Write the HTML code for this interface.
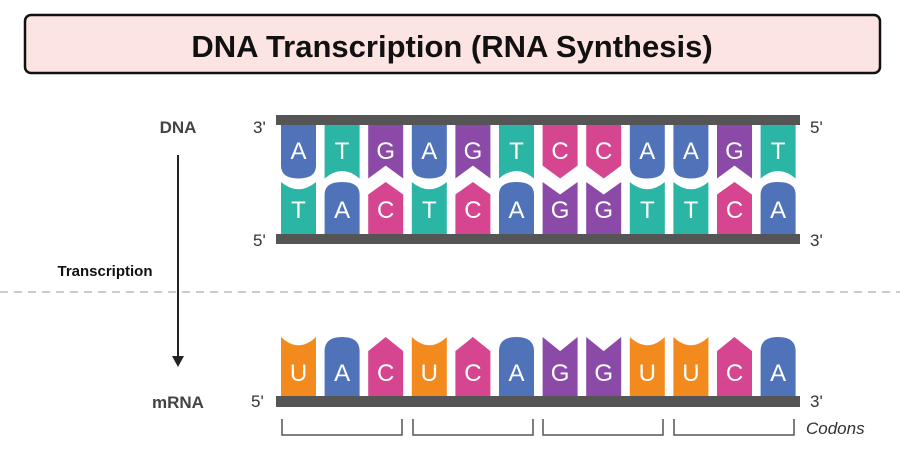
<!DOCTYPE html>
<html><head><meta charset="utf-8"><style>
html,body{margin:0;padding:0;background:#fff;}
svg{display:block;}
.l{font-family:"Liberation Sans",sans-serif;font-size:24px;fill:#fff;text-anchor:middle;}
.p{font-family:"Liberation Sans",sans-serif;font-size:17px;fill:#333;}
.b{font-family:"Liberation Sans",sans-serif;font-weight:bold;fill:#444;font-size:17px;text-anchor:middle;}
</style></head><body>
<svg width="900" height="472" viewBox="0 0 900 472" xmlns="http://www.w3.org/2000/svg">
<defs>
<path id="A" d="M0,0H35V38Q35,50 17.5,50Q0,50 0,38Z" fill="#4f72b8"/>
<path id="T" d="M0,0H35V50Q17.5,36 0,50Z" fill="#2bb5a5"/>
<path id="U" d="M0,0H35V50Q17.5,36 0,50Z" fill="#f28a1e"/>
<path id="G" d="M0,0H35V50L17.5,38L0,50Z" fill="#8c4aa8"/>
<path id="C" d="M0,0H35V38L17.5,50L0,38Z" fill="#d6458f"/>
</defs>
<rect x="25" y="15" width="855" height="58" rx="6" fill="#fbe4e1" stroke="#111" stroke-width="2.5"/>
<text x="452" y="57" text-anchor="middle" font-family="Liberation Sans,sans-serif" font-weight="bold" font-size="31" fill="#111">DNA Transcription (RNA Synthesis)</text>

<text x="178" y="133" class="b">DNA</text>
<text x="178" y="408" class="b">mRNA</text>
<text x="105" y="276" text-anchor="middle" font-family="Liberation Sans,sans-serif" font-weight="bold" font-size="15" fill="#111">Transcription</text>
<line x1="178" y1="155" x2="178" y2="358" stroke="#222" stroke-width="2"/>
<path d="M172,356L184,356L178,367Z" fill="#222"/>
<line x1="0" y1="292" x2="900" y2="292" stroke="#bbb" stroke-width="1.5" stroke-dasharray="8,6"/>

<rect x="276" y="115" width="524" height="10" fill="#555"/>
<rect x="276" y="234" width="524" height="10" fill="#555"/>
<rect x="276" y="396" width="524" height="11" fill="#555"/>
<text x="253" y="133" class="p">3'</text><text x="810" y="133" class="p">5'</text>
<text x="253" y="246" class="p">5'</text><text x="810" y="246" class="p">3'</text>
<text x="251" y="407" class="p">5'</text><text x="810" y="407" class="p">3'</text>

<g transform="translate(0,125) scale(1,1.07)">
<use href="#A" x="281"/><use href="#T" x="324.6"/><use href="#G" x="368.2"/><use href="#A" x="411.8"/><use href="#G" x="455.4"/><use href="#T" x="499"/><use href="#C" x="542.6"/><use href="#C" x="586.2"/><use href="#A" x="629.8"/><use href="#A" x="673.4"/><use href="#G" x="717"/><use href="#T" x="760.6"/>
</g>
<g transform="translate(0,234) scale(1,-1.04)">
<use href="#T" x="281"/><use href="#A" x="324.6"/><use href="#C" x="368.2"/><use href="#T" x="411.8"/><use href="#C" x="455.4"/><use href="#A" x="499"/><use href="#G" x="542.6"/><use href="#G" x="586.2"/><use href="#T" x="629.8"/><use href="#T" x="673.4"/><use href="#C" x="717"/><use href="#A" x="760.6"/>
</g>
<g transform="translate(0,396) scale(1,-1.18)">
<use href="#U" x="281"/><use href="#A" x="324.6"/><use href="#C" x="368.2"/><use href="#U" x="411.8"/><use href="#C" x="455.4"/><use href="#A" x="499"/><use href="#G" x="542.6"/><use href="#G" x="586.2"/><use href="#U" x="629.8"/><use href="#U" x="673.4"/><use href="#C" x="717"/><use href="#A" x="760.6"/>
</g>
<g>
<text x="298.5" y="159" class="l">A</text><text x="342.1" y="159" class="l">T</text><text x="385.7" y="159" class="l">G</text><text x="429.3" y="159" class="l">A</text><text x="472.9" y="159" class="l">G</text><text x="516.5" y="159" class="l">T</text><text x="560.1" y="159" class="l">C</text><text x="603.7" y="159" class="l">C</text><text x="647.3" y="159" class="l">A</text><text x="690.9" y="159" class="l">A</text><text x="734.5" y="159" class="l">G</text><text x="778.1" y="159" class="l">T</text>
<text x="298.5" y="218" class="l">T</text><text x="342.1" y="218" class="l">A</text><text x="385.7" y="218" class="l">C</text><text x="429.3" y="218" class="l">T</text><text x="472.9" y="218" class="l">C</text><text x="516.5" y="218" class="l">A</text><text x="560.1" y="218" class="l">G</text><text x="603.7" y="218" class="l">G</text><text x="647.3" y="218" class="l">T</text><text x="690.9" y="218" class="l">T</text><text x="734.5" y="218" class="l">C</text><text x="778.1" y="218" class="l">A</text>
<text x="298.5" y="381" class="l">U</text><text x="342.1" y="381" class="l">A</text><text x="385.7" y="381" class="l">C</text><text x="429.3" y="381" class="l">U</text><text x="472.9" y="381" class="l">C</text><text x="516.5" y="381" class="l">A</text><text x="560.1" y="381" class="l">G</text><text x="603.7" y="381" class="l">G</text><text x="647.3" y="381" class="l">U</text><text x="690.9" y="381" class="l">U</text><text x="734.5" y="381" class="l">C</text><text x="778.1" y="381" class="l">A</text>
</g>
<g fill="none" stroke="#555" stroke-width="1.5">
<path d="M282,419V435H402V419"/><path d="M413,419V435H533V419"/><path d="M543,419V435H663V419"/><path d="M674,419V435H794V419"/>
</g>
<text x="806" y="434" font-family="Liberation Sans,sans-serif" font-style="italic" font-size="17" fill="#333">Codons</text>
</svg>
</body></html>
